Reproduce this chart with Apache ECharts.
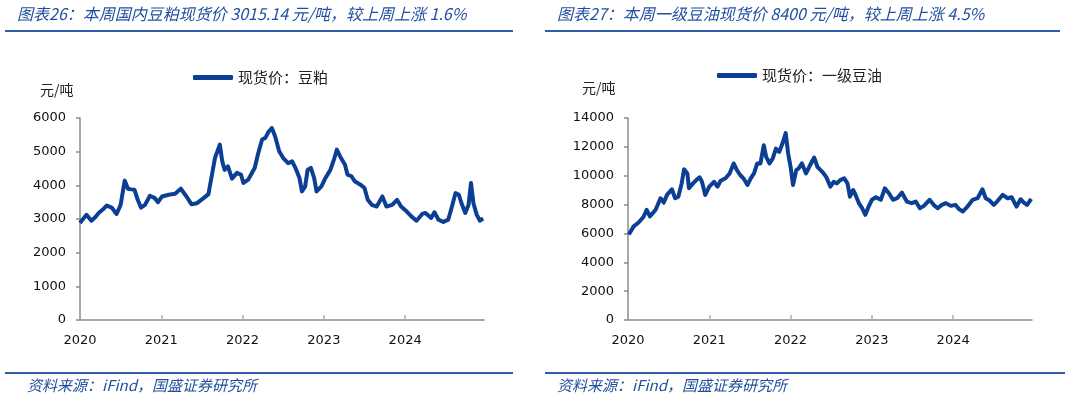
<!DOCTYPE html>
<html>
<head>
<meta charset="utf-8">
<script src="https://cdn.jsdelivr.net/npm/echarts@6/dist/echarts.min.js"></script>
<style>
  html, body { margin: 0; padding: 0; background: #fff; }
  #chart { width: 1065px; height: 398px; }
</style>
</head>
<body>
<div id="chart"></div>
<script>
// 豆粕现货价 (元/吨), dates as decimal years
var mealDates = [2020.00, 2020.04, 2020.08, 2020.14, 2020.19, 2020.23, 2020.28, 2020.33, 2020.39, 2020.45,
    2020.50, 2020.55, 2020.59, 2020.63, 2020.67, 2020.71, 2020.75, 2020.80, 2020.86, 2020.92,
    2020.96, 2021.01, 2021.09, 2021.17, 2021.24, 2021.31, 2021.37, 2021.44, 2021.52, 2021.58,
    2021.62, 2021.66, 2021.72, 2021.75, 2021.78, 2021.82, 2021.87, 2021.93, 2021.98, 2022.01,
    2022.07, 2022.15, 2022.19, 2022.24, 2022.28, 2022.32, 2022.36, 2022.40, 2022.45, 2022.50,
    2022.56, 2022.61, 2022.65, 2022.70, 2022.73, 2022.77, 2022.80, 2022.84, 2022.88, 2022.91,
    2022.97, 2023.02, 2023.08, 2023.13, 2023.16, 2023.20, 2023.26, 2023.29, 2023.34, 2023.38,
    2023.45, 2023.50, 2023.54, 2023.59, 2023.65, 2023.72, 2023.77, 2023.84, 2023.90, 2023.95,
    2024.02, 2024.08, 2024.14, 2024.21, 2024.25, 2024.32, 2024.36, 2024.41, 2024.47, 2024.53,
    2024.57, 2024.62, 2024.66, 2024.70, 2024.74, 2024.78, 2024.81, 2024.84, 2024.88, 2024.92,
    2024.96];
var mealValues = [2880, 3010, 3125, 2950, 3060, 3180, 3280, 3400, 3340, 3150,
    3420, 4140, 3900, 3880, 3870, 3570, 3340, 3420, 3690, 3620,
    3500, 3670, 3720, 3750, 3900, 3670, 3440, 3470, 3620, 3740,
    4270, 4810, 5210, 4710, 4460, 4560, 4200, 4370, 4320, 4070,
    4170, 4520, 4930, 5360, 5410, 5590, 5700, 5460, 5010, 4810,
    4660, 4710, 4520, 4220, 3820, 3970, 4460, 4520, 4220, 3820,
    3970, 4220, 4460, 4810, 5060, 4860, 4610, 4320, 4270, 4120,
    4020, 3920, 3570, 3420, 3370, 3670, 3370, 3420, 3570, 3370,
    3220, 3070, 2950, 3150, 3180, 3030, 3200, 2980, 2910, 2980,
    3320, 3770, 3720, 3420, 3180, 3420, 4070, 3470, 3130, 2950,
    3015];

// 一级豆油现货价 (元/吨)
var oilDates = [2020.01, 2020.07, 2020.13, 2020.19, 2020.23, 2020.27, 2020.34, 2020.40, 2020.44, 2020.48,
    2020.54, 2020.58, 2020.62, 2020.66, 2020.69, 2020.73, 2020.75, 2020.80, 2020.84, 2020.88,
    2020.91, 2020.95, 2021.00, 2021.06, 2021.10, 2021.14, 2021.20, 2021.25, 2021.30, 2021.34,
    2021.38, 2021.42, 2021.47, 2021.51, 2021.55, 2021.59, 2021.63, 2021.67, 2021.70, 2021.74,
    2021.78, 2021.82, 2021.86, 2021.90, 2021.94, 2021.97, 2022.00, 2022.03, 2022.07, 2022.10,
    2022.14, 2022.19, 2022.23, 2022.29, 2022.33, 2022.39, 2022.44, 2022.49, 2022.53, 2022.57,
    2022.61, 2022.66, 2022.70, 2022.73, 2022.77, 2022.80, 2022.84, 2022.88, 2022.92, 2022.96,
    2023.00, 2023.05, 2023.11, 2023.16, 2023.21, 2023.26, 2023.31, 2023.37, 2023.43, 2023.49,
    2023.54, 2023.59, 2023.64, 2023.71, 2023.76, 2023.81, 2023.86, 2023.91, 2023.97, 2024.03,
    2024.07, 2024.12, 2024.17, 2024.24, 2024.30, 2024.36, 2024.40, 2024.45, 2024.50, 2024.54,
    2024.61, 2024.67, 2024.72, 2024.78, 2024.83, 2024.87, 2024.91, 2024.96];
var oilValues = [5920, 6490, 6760, 7140, 7640, 7180, 7640, 8440, 8140, 8670,
    9060, 8440, 8550, 9470, 10440, 10160, 9130, 9470, 9700, 9890,
    9580, 8670, 9240, 9580, 9240, 9650, 9820, 10160, 10850, 10390,
    10050, 9820, 9360, 9820, 10160, 10850, 10850, 12110, 11300, 10850,
    11190, 11880, 11650, 12230, 12950, 11540, 10620, 9360, 10390, 10510,
    10850, 10160, 10620, 11260, 10620, 10270, 9900, 9240, 9580, 9470,
    9700, 9820, 9470, 8550, 9010, 8670, 8100, 7750, 7290, 7860,
    8330, 8510, 8330, 9130, 8790, 8330, 8440, 8830, 8210, 8100,
    8210, 7750, 7910, 8330, 7980, 7750, 7980, 8100, 7910, 7980,
    7690, 7520, 7820, 8330, 8440, 9060, 8440, 8280, 7980, 8210,
    8670, 8440, 8510, 7860, 8370, 8140, 7980, 8400];

var yearTicks = [2020, 2021, 2022, 2023, 2024];

var titleLeft = '图表26：本周国内豆粕现货价 3015.14 元/吨，较上周上涨 1.6%';
var titleRight = '图表27：本周一级豆油现货价 8400 元/吨，较上周上涨 4.5%';
var sourceText = '资料来源：iFind，国盛证券研究所';
var unitText = '元/吨';
var mealName = '现货价：豆粕';
var oilName = '现货价：一级豆油';

function pairs(xs, ys) {
    return xs.map(function(x, i) { return [x, ys[i]]; });
}

var blue = '#0b3f94';
var textBlue = '#1f4f9e';
var ruleBlue = '#2f5da9';
var axisGray = '#8c8c8c';
var cjk = '"Noto Sans CJK SC", sans-serif';
var num = '"DejaVu Sans", sans-serif';

function xAxisFor(grid) {
    return {
        type: 'value', gridIndex: grid, min: 2020, max: 2024.97,
        axisLine: { show: true, lineStyle: { color: axisGray, width: 1.5 } },
        axisTick: { show: true, inside: true, length: 5, customValues: [2021, 2022, 2023, 2024],
            lineStyle: { color: '#b0b0b0', width: 1.5 } },
        axisLabel: { customValues: yearTicks, margin: 14, color: '#111', fontFamily: num, fontSize: 13,
            formatter: function(v) { return String(v); } },
        splitLine: { show: false }
    };
}

function yAxisFor(grid, max, step) {
    return {
        type: 'value', gridIndex: grid, min: 0, max: max, interval: step,
        axisLine: { show: true, lineStyle: { color: axisGray, width: 1.5 } },
        axisTick: { show: true, length: 4, lineStyle: { color: axisGray, width: 1.5 } },
        axisLabel: { margin: 14, color: '#111', fontFamily: num, fontSize: 13,
            formatter: function(v) { return String(v); } },
        splitLine: { show: false }
    };
}

function txt(text, x, y, size, color, italic) {
    return {
        type: 'text', x: x, y: y,
        style: { text: text, fill: color, fontSize: size, fontFamily: cjk,
            fontStyle: italic ? 'italic' : 'normal', verticalAlign: 'middle' }
    };
}

function rule(x1, x2, y) {
    return { type: 'line', shape: { x1: x1, y1: y, x2: x2, y2: y },
        style: { stroke: ruleBlue, lineWidth: 2 } };
}

var chart = echarts.init(document.getElementById('chart'));

chart.setOption({
    animation: false,
    backgroundColor: '#fff',
    grid: [
        { left: 80, top: 118, width: 404, height: 202 },
        { left: 628, top: 118, width: 404, height: 202 }
    ],
    legend: [
        { data: [mealName], left: 193, top: 70, padding: 0, icon: 'roundRect', itemWidth: 40, itemHeight: 5,
            textStyle: { fontFamily: cjk, fontSize: 15, color: '#222' } },
        { data: [oilName], left: 717, top: 68, padding: 0, icon: 'roundRect', itemWidth: 40, itemHeight: 5,
            textStyle: { fontFamily: cjk, fontSize: 15, color: '#222' } }
    ],
    xAxis: [xAxisFor(0), xAxisFor(1)],
    yAxis: [yAxisFor(0, 6000, 1000), yAxisFor(1, 14000, 2000)],
    series: [
        { name: mealName, type: 'line', xAxisIndex: 0, yAxisIndex: 0, showSymbol: false,
            data: pairs(mealDates, mealValues), itemStyle: { color: blue },
            lineStyle: { color: blue, width: 4, join: 'round' } },
        { name: oilName, type: 'line', xAxisIndex: 1, yAxisIndex: 1, showSymbol: false,
            data: pairs(oilDates, oilValues), itemStyle: { color: blue },
            lineStyle: { color: blue, width: 4, join: 'round' } }
    ],
    graphic: [
        txt(titleLeft, 17, 14, 16, textBlue, true),
        txt(titleRight, 557, 14, 16, textBlue, true),
        rule(5, 513, 31),
        rule(545, 1060, 31),
        txt(unitText, 40, 90, 14, '#222', false),
        txt(unitText, 582, 88, 14, '#222', false),
        rule(5, 513, 373),
        rule(545, 1065, 373),
        txt(sourceText, 27, 385, 15, textBlue, true),
        txt(sourceText, 557, 385, 15, textBlue, true)
    ]
});
</script>
</body>
</html>
